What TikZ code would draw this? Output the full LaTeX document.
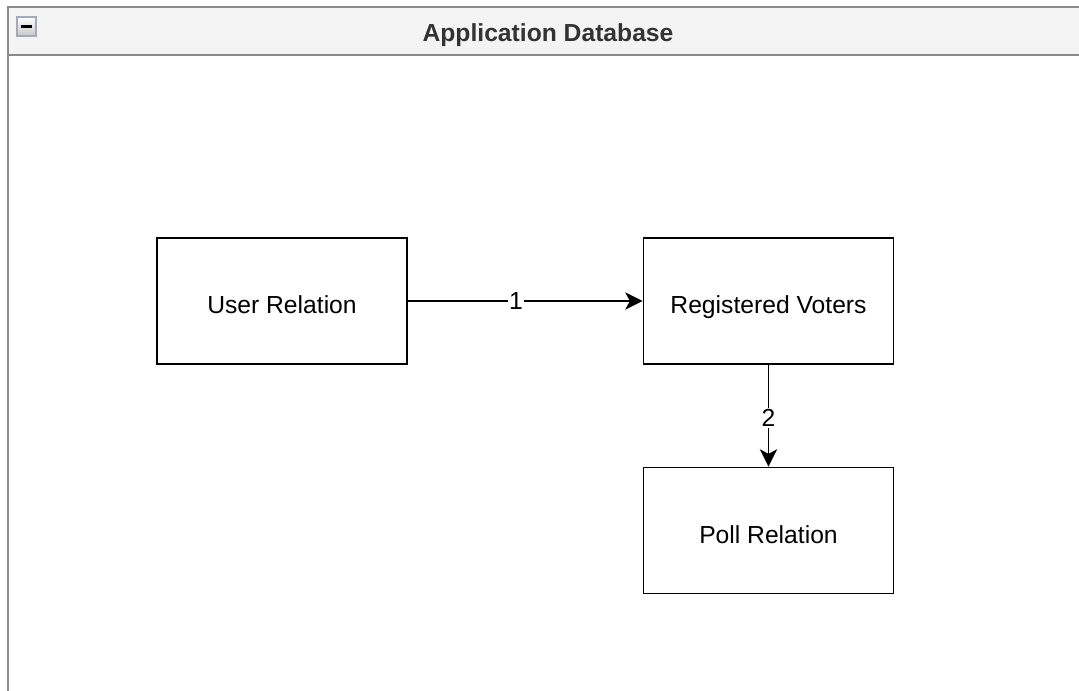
\documentclass[tikz,border=0pt]{standalone}
\usepackage{fontspec}
\setmainfont{Liberation Sans}
\usetikzlibrary{arrows.meta}
\definecolor{frameline}{HTML}{8A8A8A}
\definecolor{headfill}{HTML}{F4F4F4}
\definecolor{titletext}{HTML}{333333}
\definecolor{iconline}{HTML}{A3AABB}
\tikzset{
  relbox/.style={draw=black, line width=1.4pt, minimum width=187.5pt, minimum height=94.5pt,
    font=\fontsize{18.5}{22}\selectfont, inner sep=0pt, text height=19.5pt, text depth=0pt},
  link/.style={draw=black, line width=1.4pt, -{Stealth[length=13pt,width=13pt,inset=3.5pt]}},
  linklabel/.style={fill=white, font=\fontsize{18.5}{22}\selectfont, inner sep=1pt}
}
\begin{document}
\begin{tikzpicture}[x=0.75pt, y=-0.75pt]
  \useasboundingbox (0,0) rectangle (1079,691);
  % container frame with header band
  \fill[headfill] (8,7) rectangle (1090,55);
  \draw[frameline, line width=2pt] (1090,7) -- (8,7) -- (8,700);
  \draw[frameline, line width=2pt] (8,55) -- (1090,55);
  % collapse button
  \node[draw=iconline, line width=1pt, top color=white, bottom color=black!22,
        minimum width=14.25pt, minimum height=14.25pt, inner sep=0pt] (collapse) at (26.5,26.5) {};
  \draw[black, line width=2.2pt] ([xshift=-4.3pt]collapse.center) -- ([xshift=4.3pt]collapse.center);
  \node[font=\bfseries\fontsize{18.5}{22}\selectfont, text=titletext, text height=13.5pt, text depth=0pt] (title) at (548,33) {Application Database};
  % relations
  \node[relbox] (user) at (282,301) {User Relation};
  \node[relbox] (voters) at (768.5,301) {Registered Voters};
  \node[relbox] (poll) at (768.5,530.5) {Poll Relation};
  % connectors
  \draw[link] (user.east) -- node[linklabel, pos=0.46] {1} (voters.west);
  \draw[link] (voters.south) -- node[linklabel, pos=0.52] {2} (poll.north);
\end{tikzpicture}
\end{document}
